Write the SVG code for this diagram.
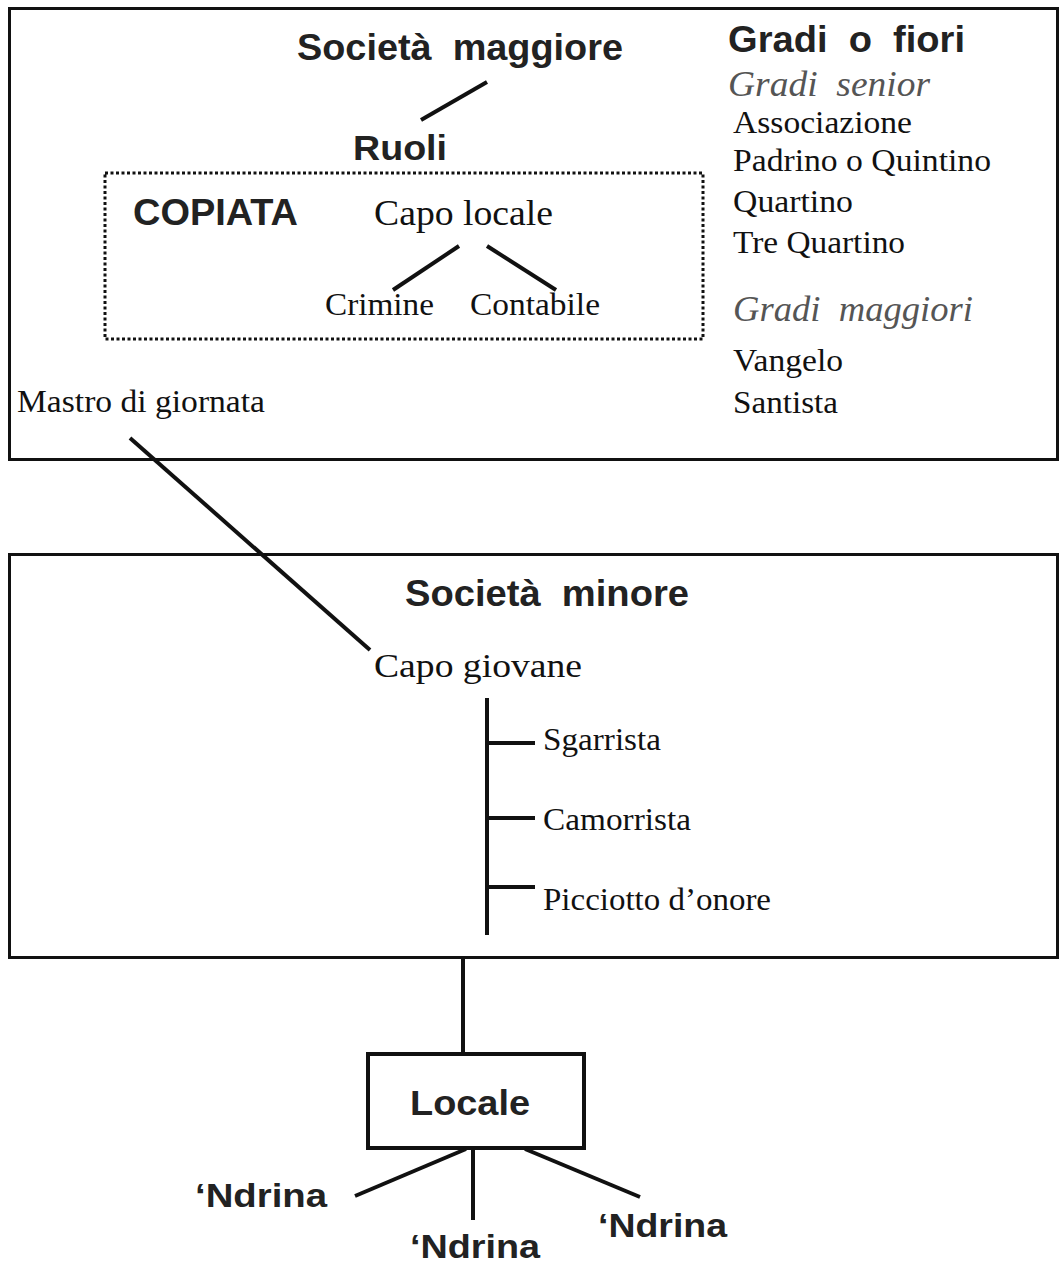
<svg xmlns="http://www.w3.org/2000/svg" width="1060" height="1265" viewBox="0 0 1060 1265">
<style>
.box{fill:none;stroke:#111;stroke-width:3}
.ln{stroke:#111;stroke-width:4;fill:none}
.b{font-family:"Liberation Sans",Arial,sans-serif;font-weight:bold;fill:#222}
.s{font-family:"Liberation Serif","Times New Roman",serif;fill:#111}
.i{font-family:"Liberation Serif","Times New Roman",serif;font-style:italic;fill:#555}
</style>
<rect width="1060" height="1265" fill="#fff"/>
<g id="societa-maggiore">
<rect class="box" x="9.5" y="8.5" width="1048" height="451"/>
<text class="b" x="297" y="60" font-size="37" textLength="326" lengthAdjust="spacingAndGlyphs" xml:space="preserve">Società  maggiore</text>
</g>
<g id="ruoli"><text class="b" x="353" y="160" font-size="35" textLength="94" lengthAdjust="spacingAndGlyphs">Ruoli</text></g>
<g id="copiata">
<rect x="105" y="173" width="598" height="166" fill="none" stroke="#111" stroke-width="3" stroke-dasharray="3 2.5"/>
<text class="b" x="133" y="225" font-size="36" textLength="165" lengthAdjust="spacingAndGlyphs">COPIATA</text>
</g>
<g id="capo-locale"><text class="s" x="374" y="225" font-size="35" textLength="179" lengthAdjust="spacingAndGlyphs">Capo locale</text></g>
<g id="crimine"><text class="s" x="325" y="315" font-size="31" textLength="109" lengthAdjust="spacingAndGlyphs">Crimine</text></g>
<g id="contabile"><text class="s" x="470" y="315" font-size="31" textLength="130" lengthAdjust="spacingAndGlyphs">Contabile</text></g>
<g id="mastro"><text class="s" x="17" y="412" font-size="31" textLength="248" lengthAdjust="spacingAndGlyphs">Mastro di giornata</text></g>
<g id="gradi">
<text class="b" x="728" y="52" font-size="36" textLength="237" lengthAdjust="spacingAndGlyphs" xml:space="preserve">Gradi  o  fiori</text>
<text class="i" x="728" y="96" font-size="36" textLength="202" lengthAdjust="spacingAndGlyphs" xml:space="preserve">Gradi  senior</text>
<text class="s" x="733" y="133" font-size="31" textLength="179" lengthAdjust="spacingAndGlyphs">Associazione</text>
<text class="s" x="733" y="171" font-size="31" textLength="258" lengthAdjust="spacingAndGlyphs">Padrino o Quintino</text>
<text class="s" x="733" y="212" font-size="31" textLength="120" lengthAdjust="spacingAndGlyphs">Quartino</text>
<text class="s" x="733" y="253" font-size="31" textLength="172" lengthAdjust="spacingAndGlyphs">Tre Quartino</text>
<text class="i" x="733" y="321" font-size="36" textLength="240" lengthAdjust="spacingAndGlyphs" xml:space="preserve">Gradi  maggiori</text>
<text class="s" x="733" y="371" font-size="31" textLength="110" lengthAdjust="spacingAndGlyphs">Vangelo</text>
<text class="s" x="733" y="413" font-size="31" textLength="105" lengthAdjust="spacingAndGlyphs">Santista</text>
</g>
<g id="societa-minore">
<rect class="box" x="9.5" y="554.5" width="1048" height="403"/>
<text class="b" x="405" y="606" font-size="36" textLength="284" lengthAdjust="spacingAndGlyphs" xml:space="preserve">Società  minore</text>
</g>
<g id="capo-giovane"><text class="s" x="374" y="677" font-size="34" textLength="208" lengthAdjust="spacingAndGlyphs">Capo giovane</text></g>
<g id="sgarrista"><text class="s" x="543" y="750" font-size="31" textLength="118" lengthAdjust="spacingAndGlyphs">Sgarrista</text></g>
<g id="camorrista"><text class="s" x="543" y="830" font-size="31" textLength="148" lengthAdjust="spacingAndGlyphs">Camorrista</text></g>
<g id="picciotto"><text class="s" x="543" y="910" font-size="31" textLength="228" lengthAdjust="spacingAndGlyphs">Picciotto d’onore</text></g>
<g id="locale">
<rect x="368" y="1054" width="216" height="94" fill="none" stroke="#111" stroke-width="4"/>
<text class="b" x="410" y="1115" font-size="35" textLength="120" lengthAdjust="spacingAndGlyphs">Locale</text>
</g>
<g id="ndrina-1"><text class="b" x="195" y="1207" font-size="34" textLength="132" lengthAdjust="spacingAndGlyphs">‘Ndrina</text></g>
<g id="ndrina-2"><text class="b" x="410" y="1258" font-size="34" textLength="130" lengthAdjust="spacingAndGlyphs">‘Ndrina</text></g>
<g id="ndrina-3"><text class="b" x="598" y="1237" font-size="34" textLength="129" lengthAdjust="spacingAndGlyphs">‘Ndrina</text></g>
<g id="connectors" class="ln">
<line x1="487" y1="82" x2="421" y2="120"/>
<line x1="459" y1="246" x2="393" y2="290"/>
<line x1="487" y1="246" x2="556" y2="290"/>
<line x1="130" y1="438" x2="370" y2="650"/>
<line x1="487" y1="698" x2="487" y2="935"/>
<line x1="487" y1="743" x2="535" y2="743"/>
<line x1="487" y1="818" x2="535" y2="818"/>
<line x1="487" y1="887" x2="535" y2="887"/>
<line x1="463" y1="958" x2="463" y2="1053"/>
<line x1="466" y1="1149" x2="355" y2="1196"/>
<line x1="473" y1="1149" x2="473" y2="1220"/>
<line x1="525" y1="1149" x2="640" y2="1197"/>
</g>
</svg>
